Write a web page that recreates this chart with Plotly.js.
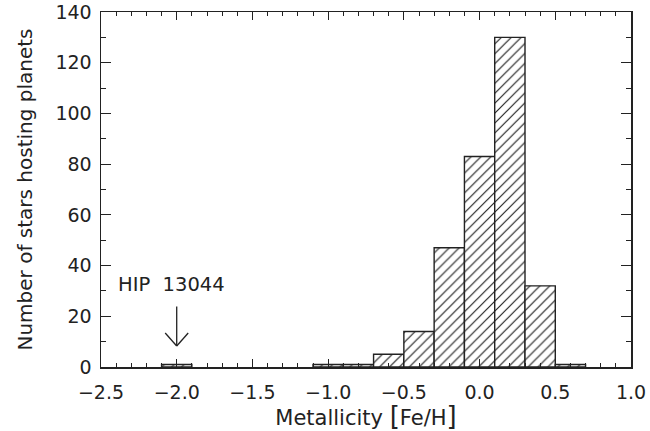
<!DOCTYPE html>
<html>
<head>
<meta charset="utf-8">
<script src="https://cdn.plot.ly/plotly-3.0.1.min.js"></script>
<style>html,body{margin:0;padding:0;background:#fff;}#chart{width:650px;height:431px;}</style>
</head>
<body>
<div id="chart"></div>
<script>
// Histogram of [Fe/H] for planet-hosting stars (bin width 0.2)
const binCenters = [-2.0, -1.0, -0.8, -0.6, -0.4, -0.2, 0.0, 0.2, 0.4, 0.6];
const counts     = [1, 1, 1, 5, 14, 47, 83, 130, 32, 1];
const binWidth = 0.2;
const xTitle = "Metallicity <span style='font-size:26px'>[</span>Fe/H<span style='font-size:26px'>]</span>";
const yTitle = "Number of stars hosting planets";
const starLabel = "HIP\u00a0 13044";
const starFeH = -2.0;
const arrowTop = 24.5, arrowTip = 8.3, labelY = 32.5;

const ink = '#222';
const fam = 'DejaVu Sans, sans-serif';
const font = {family: fam, size: 19, color: ink};

const trace = {
  type: 'bar',
  x: binCenters,
  y: counts,
  width: binCenters.map(() => binWidth),
  marker: {
    color: 'white',
    line: {color: ink, width: 1.4},
    pattern: {shape: '/', fgcolor: '#222', bgcolor: 'white', size: 7, solidity: 0.17}
  },
  hoverinfo: 'x+y'
};

const axisCommon = {
  showline: true, linecolor: ink, linewidth: 1.5, mirror: 'ticks',
  ticks: 'inside', tickcolor: ink, tickwidth: 1.2,
  showgrid: false, zeroline: false, tickfont: font, ticklabeloverflow: 'allow'
};

const layout = {
  width: 650, height: 431,
  margin: {l: 101, r: 19, t: 12, b: 64},
  paper_bgcolor: 'white', plot_bgcolor: 'white',
  bargap: 0, showlegend: false,
  font: font,
  xaxis: Object.assign({}, axisCommon, {
    range: [-2.5, 1.0], tick0: -2.5, dtick: 0.5, tickformat: '.1f', ticklen: 8,
    minor: {dtick: 0.1, ticks: 'inside', ticklen: 4, tickcolor: ink, tickwidth: 1},
    ticklabelstandoff: 8,
    title: {text: xTitle, font: {family: fam, size: 21, color: ink}, standoff: 7}
  }),
  yaxis: Object.assign({}, axisCommon, {
    range: [0, 140], tick0: 0, dtick: 20, ticklen: 10,
    minor: {dtick: 10, ticks: 'inside', ticklen: 5, tickcolor: ink, tickwidth: 1},
    ticklabelstandoff: 4,
    title: {text: yTitle, font: {family: fam, size: 20, color: ink}, standoff: 17}
  }),
  annotations: [
    {x: starFeH, y: labelY, xref: 'x', yref: 'y', text: starLabel, showarrow: false,
     xanchor: 'center', yanchor: 'middle', xshift: -5, font: {family: fam, size: 19.5, color: ink}},
    {x: starFeH, y: arrowTip, ax: starFeH, ay: arrowTop, xref: 'x', yref: 'y', axref: 'x', ayref: 'y',
     text: '', showarrow: true, arrowhead: 0, arrowwidth: 1.3, arrowcolor: ink, standoff: 0}
  ],
  shapes: [-1, 1].map(s => ({
    type: 'line', xref: 'x', yref: 'y',
    xsizemode: 'pixel', ysizemode: 'pixel', xanchor: starFeH, yanchor: arrowTip,
    x0: 0, y0: 0, x1: s * 11.5, y1: 13,
    line: {color: ink, width: 1.3}
  }))
};

Plotly.newPlot('chart', [trace], layout, {displayModeBar: false, staticPlot: true});
</script>
</body>
</html>
